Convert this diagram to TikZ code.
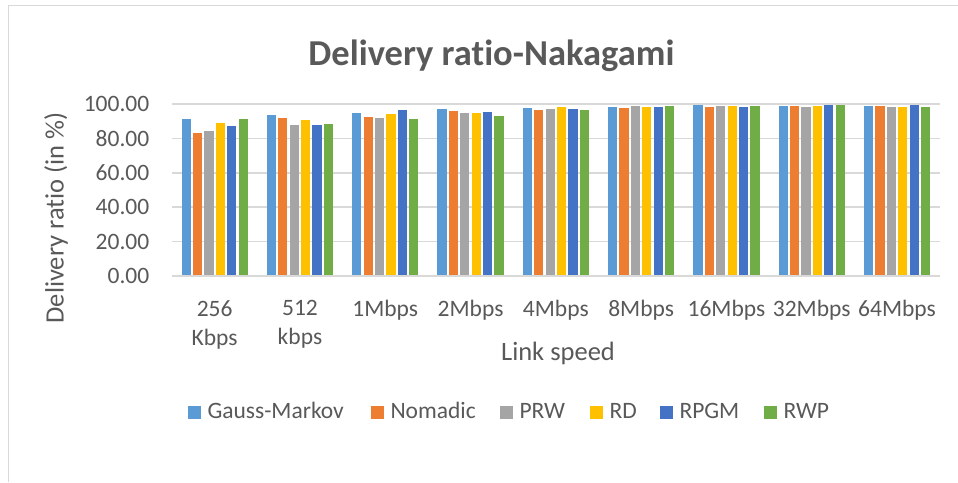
\documentclass[tikz,border=0pt]{standalone}
\usepackage{fontspec}
\setmainfont{Carlito}[Ligatures=NoCommon]
\definecolor{cGM}{HTML}{5B9BD5}
\definecolor{cNom}{HTML}{ED7D31}
\definecolor{cPRW}{HTML}{A5A5A5}
\definecolor{cRD}{HTML}{FFC000}
\definecolor{cRPGM}{HTML}{4472C4}
\definecolor{cRWP}{HTML}{70AD47}
\definecolor{txt}{HTML}{595959}
\definecolor{gridc}{HTML}{D9D9D9}
\begin{document}
\begin{tikzpicture}[x=1pt,y=-1pt,
  lbl/.style={text=txt,font=\fontsize{23.5}{29}\selectfont,inner sep=0pt},
  axtitle/.style={text=txt,font=\fontsize{26.5}{30}\selectfont,inner sep=0pt},
  gline/.style={draw=gridc,line width=1.6pt},
  legsq/.style={minimum size=13pt,inner sep=0pt,anchor=north west}]
\useasboundingbox (0,0) rectangle (958,482);
\fill[white] (0,0) rectangle (958,482);
\draw[gridc,line width=1pt] (8.5,482) -- (8.5,5.5) -- (958,5.5);
% title
\node[text=txt,font=\bfseries\fontsize{36.5}{40}\selectfont,inner sep=0pt,anchor=base] (title) at (491.5,65) {Delivery ratio-Nakagami};
% gridlines and y tick labels
\foreach \v/\l in {0/0.00,20/20.00,40/40.00,60/60.00,80/80.00,100/100.00}{
  \draw[gline] (172,{276-1.72*\v}) -- (939.5,{276-1.72*\v});
  \node[lbl,anchor=east] (ytick\v) at (149.5,{276-1.72*\v}) {\l};
}
% bars
\foreach \a/\b/\c/\d/\e/\f [count=\g from 0] in {
  91.1/83.1/84.5/89.1/87.2/91.1,
  93.6/92.0/87.8/90.9/88.0/88.4,
  94.8/92.4/92.0/94.4/96.5/91.5,
  97.1/95.9/95.0/95.0/95.3/93.0,
  97.5/96.5/97.1/98.3/97.1/96.5,
  98.5/97.9/98.8/98.3/98.5/98.7,
  99.4/98.5/98.8/98.8/98.5/98.8,
  98.8/98.8/98.5/98.8/99.4/99.4,
  99.1/99.1/98.5/98.3/99.4/98.3}{
  \pgfmathsetmacro\cx{172+85.3*(\g+0.5)}
  \foreach \v/\col [count=\k from 0] in {\a/cGM,\b/cNom,\c/cPRW,\d/cRD,\e/cRPGM,\f/cRWP}{
    \fill[\col] ({\cx-34.2+11.4*\k+1.1},276) rectangle ++(9.2,{-1.72*\v});
  }
}
\draw[gline] (172,276) -- (939.5,276);
% x labels
\foreach \t [count=\g from 0] in {{256\\Kbps},{512\\kbps},1Mbps,2Mbps,4Mbps,8Mbps,16Mbps,32Mbps,64Mbps}{
  \pgfmathsetmacro\cx{172+85.3*(\g+0.5)}
  \node[lbl,anchor=north,align=center] (xl\g) at (\cx,300) {\t};
}
\node[axtitle,anchor=base] (xtitle) at (558,360) {Link speed};
\node[axtitle,rotate=90] (ytitle) at (56,218) {Delivery ratio (in \%)};
% legend
\foreach \x/\col/\name in {188/cGM/Gauss-Markov,371/cNom/Nomadic,500/cPRW/PRW,590/cRD/RD,660/cRPGM/RPGM,764/cRWP/RWP}{
  \node[legsq,fill=\col] (sq\name) at (\x,405.5) {};
  \node[lbl,anchor=base west] (lg\name) at (\x+19.3,418.3) {\name};
}
\end{tikzpicture}
\end{document}
